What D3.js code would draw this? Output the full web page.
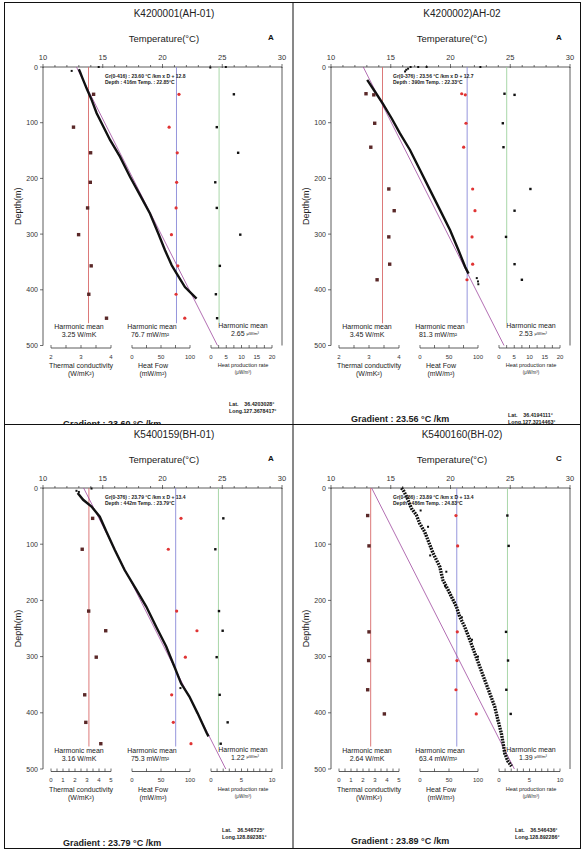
<!DOCTYPE html>
<html><head><meta charset="utf-8">
<script src="https://cdn.jsdelivr.net/npm/d3@7"></script>
<style>body{margin:0;background:#fff}svg{display:block;font-family:"Liberation Sans",Arial,sans-serif}</style>
</head><body><svg id="c" width="586" height="852"></svg>
<script>
// ---------- labels ----------
const titles = ["K4200001(AH-01)", "K4200002)AH-02", "K5400159(BH-01)", "K5400160(BH-02)"];
const corner = ["A", "A", "A", "C"];
const grLine1 = ["Gr(0-416) : 23.60 °C /km x D + 12.8", "Gr(0-376) : 23.56 °C /km x D + 12.7",
                 "Gr(0-376) : 23.79 °C /km x D + 13.4", "Gr(0-486) : 23.89 °C /km x D + 13.4"];
const grLine2 = ["Depth : 416m  Temp. : 22.85°C", "Depth : 390m  Temp. : 22.33°C",
                 "Depth : 442m  Temp. : 23.79°C", "Depth : 486m  Temp. : 24.83°C"];
const gradLabel = ["Gradient : 23.60 °C /km", "Gradient : 23.56 °C /km", "Gradient : 23.79 °C /km", "Gradient : 23.89 °C /km"];
const latLabel = ["Lat.    36.4203028°", "Lat.    36.4194111°", "Lat.    36.546725°", "Lat.    36.546436°"];
const longLabel = ["Long.127.3678417°", "Long.127.3214463°", "Long.128.892381°", "Long.128.892286°"];
const gradSlope = [23.60, 23.56, 23.79, 23.89];
const gradIntercept = [12.8, 12.7, 13.4, 13.4];
const tcMean = [3.25, 3.45, 3.16, 2.64];
const hfMean = [76.7, 81.3, 75.3, 63.4];
const hpMean = [2.65, 2.53, 1.22, 1.39];
const tcDomain = [[2, 4], [2, 4], [0, 5], [0, 5]];
const tcTicks = [[2, 3, 4], [2, 3, 4], [0, 1, 2, 3, 4, 5], [0, 1, 2, 3, 4, 5]];
const tcMinorStep = [0.5, 0.5, 0.5, 0.5];
const hfDomain = [0, 100];
const hfTicks = [0, 50, 100];
const hpDomain = [[0, 20], [0, 20], [0, 10], [0, 10]];
const hpTicks = [[0, 5, 10, 15, 20], [0, 5, 10, 15, 20], [0, 5, 10], [0, 5, 10]];
const hpMinorStep = [2.5, 2.5, 1, 1];
const tempTicks = [10, 15, 20, 25, 30];
const depthTicks = [0, 100, 200, 300, 400, 500];

// ---------- temperature logs (depth m, temperature °C) ----------
const log1Depth = [4, 9, 20, 41, 59, 83, 101, 131, 161, 197, 230, 263, 299, 329, 356, 371, 395, 416];
const log1Temp  = [13.0, 13.1, 13.3, 13.7, 14.07, 14.49, 14.91, 15.61, 16.44, 17.28, 18.12, 18.95, 19.65, 20.21, 20.77, 21.19, 21.88, 22.85];
const dots1Depth = [7, 0, 1, 0];
const dots1Temp  = [12.4, 14.66, 24.0, 25.3];

const log2Depth = [23, 44, 65, 92, 119, 149, 185, 221, 257, 293, 329, 359, 371];
const log2Temp  = [13.03, 13.67, 14.31, 15.07, 15.77, 16.61, 17.45, 18.29, 19.13, 19.97, 20.67, 21.23, 21.51];
const dots2Depth = [5, 0, 8, 3, 0, 0, 0, 379, 385, 390];
const dots2Temp  = [16.3, 16.66, 16.2, 16.45, 17.3, 18.0, 22.5, 22.2, 22.3, 22.33];

const log3Depth = [9, 21, 33, 51, 78, 110, 146, 181, 211, 247, 282, 318, 348, 371, 401, 436, 442];
const log3Temp  = [12.9, 13.36, 14.06, 14.75, 15.31, 16.0, 16.83, 17.81, 18.64, 19.47, 20.31, 21.0, 21.56, 22.25, 22.94, 23.7, 23.85];
const dots3Depth = [1, 5, 7, 356];
const dots3Temp  = [14.06, 12.8, 13.0, 21.5];

const log4Depth = [0, 6, 21, 36, 48, 63, 78, 93, 116, 140, 164, 181, 199, 211, 229, 247, 270, 294, 318, 342, 365, 389, 413, 436, 460, 472, 486, 495];
const log4Temp  = [15.9, 16.1, 16.44, 16.72, 17.14, 17.42, 17.84, 18.12, 18.54, 19.1, 19.37, 19.79, 20.21, 20.49, 20.77, 21.19, 21.61, 22.03, 22.45, 22.87, 23.28, 23.7, 23.97, 24.25, 24.45, 24.54, 24.8, 25.1];
const dots4Depth = [69, 149, 270, 40, 120, 300, 175, 230];
const dots4Temp  = [18.12, 19.65, 21.8, 17.5, 18.3, 22.3, 19.55, 20.95];

// ---------- core samples (depth m; thermal conductivity, heat flow, heat production) ----------
const s1Depth = [49, 108, 154, 207, 253, 301, 357, 408, 451];
const s1TC = [3.42, 2.75, 3.32, 3.31, 3.22, 2.92, 3.34, 3.26, 3.85];
const s1HF = [81, 64, 78, 77, 76, 68, 79, 76, 91];
const s1HP = [7.5, 1.9, 8.9, 1.4, 1.9, 9.6, 2.9, 1.6, 2.0];

const s2Depth = [48, 50, 101, 144, 219, 258, 305, 354, 382];
const s2TC = [2.9, 3.16, 3.19, 3.06, 3.66, 3.84, 3.66, 3.69, 3.27];
const s2HF = [71.9, 78.1, 79.3, 75.3, 90.8, 94.8, 89.7, 90.8, 81];
const s2HP = [1.8, 5.1, 1.25, 1.47, 10.3, 5.1, 2.3, 5.1, 7.5];

const s3Depth = [54, 109, 219, 254, 301, 368, 417, 455];
const s3TC = [3.47, 2.6, 3.14, 4.56, 3.77, 2.81, 2.9, 4.15];
const s3HF = [84.5, 62.6, 77, 112, 92, 68.4, 71.2, 101.7];
const s3HP = [2.02, 0.71, 1.31, 1.91, 0.93, 1.42, 2.73, 1.59];

const s4Depth = [49, 103, 256, 307, 359, 402];
const s4TC = [2.39, 2.5, 2.5, 2.47, 2.39, 3.78];
const s4HF = [62, 64.9, 64.3, 63.7, 62, 97];
const s4HP = [1.37, 1.58, 1.15, 1.48, 1.2, 1.92];

const logs = [[log1Depth, log1Temp], [log2Depth, log2Temp], [log3Depth, log3Temp], [log4Depth, log4Temp]];
const dots = [[dots1Depth, dots1Temp], [dots2Depth, dots2Temp], [dots3Depth, dots3Temp], [dots4Depth, dots4Temp]];
const samples = [[s1Depth, s1TC, s1HF, s1HP], [s2Depth, s2TC, s2HF, s2HP], [s3Depth, s3TC, s3HF, s3HP], [s4Depth, s4TC, s4HF, s4HP]];

// ---------- layout ----------
const offX = [0, 288, 0, 288], offY = [0, 0, 421, 421];
const X0 = 43, X1 = 282, Y0 = 67;
const Y1 = [345.5, 345.5, 348, 348];
const latX = [229, 220, 222, 227], latY = [406, 417, 411, 411];
const gradY = [426.5, 421.5, 424.5, 422.5];
const meanLineEnd = 460;

const svg = d3.select("#c");
svg.append("rect").attr("width", 586).attr("height", 852).attr("fill", "#fff");

const defs = svg.append("defs");
const clipRects = [[5, 3, 288, 421.5], [293, 3, 287, 421.5], [5, 425, 288, 423], [293, 425, 287, 423]];
clipRects.forEach((r, i) => {
  defs.append("clipPath").attr("id", "clip" + i).append("rect")
    .attr("x", r[0]).attr("y", r[1]).attr("width", r[2]).attr("height", r[3]);
});

function txt(g, x, y, s, size, anchor, weight, fill) {
  return g.append("text").attr("x", x).attr("y", y).attr("font-size", size)
    .attr("text-anchor", anchor || "middle").attr("font-weight", weight || "normal")
    .attr("fill", fill || "#222").text(s);
}

for (let p = 0; p < 4; p++) {
  const outer = svg.append("g").attr("clip-path", `url(#clip${p})`);
  const g = outer.append("g").attr("transform", `translate(${offX[p]},${offY[p]})`);
  const y1 = Y1[p];
  const xT = d3.scaleLinear().domain([10, 30]).range([X0, X1]);
  const yD = d3.scaleLinear().domain([0, 500]).range([Y0, y1]);
  const xTC = d3.scaleLinear().domain(tcDomain[p]).range([X0 + 8, X0 + 68]);
  const xHF = d3.scaleLinear().domain(hfDomain).range([X0 + 89, X0 + 147]);
  const xHP = d3.scaleLinear().domain(hpDomain[p]).range([X0 + 168, X0 + 229]);

  // titles
  txt(g, 174, 16.5, titles[p], 10, "middle", "normal", "#222");
  txt(g, 164, 41.5, "Temperature(°C)", 9.5, "middle", "normal", "#222");
  txt(g, 271, 39.5, corner[p], 8, "middle", "bold", "#111");

  // top axis
  g.append("line").attr("x1", xT(10)).attr("x2", xT(30)).attr("y1", Y0).attr("y2", Y0).attr("stroke", "#333").attr("stroke-width", 0.8);
  d3.range(10, 30.01, 1).forEach(v => {
    const major = tempTicks.includes(v);
    g.append("line").attr("x1", xT(v)).attr("x2", xT(v)).attr("y1", Y0 - (major ? 3 : 2)).attr("y2", Y0 + (major ? 1 : 0))
      .attr("stroke", "#333").attr("stroke-width", 0.7);
  });
  tempTicks.forEach(v => txt(g, xT(v), Y0 - 7, v, 7.5, "middle", "normal", "#333"));

  // left axis
  g.append("line").attr("x1", X0).attr("x2", X0).attr("y1", Y0).attr("y2", y1).attr("stroke", "#333").attr("stroke-width", 0.8);
  depthTicks.forEach(v => {
    g.append("line").attr("x1", X0 - 3).attr("x2", X0).attr("y1", yD(v)).attr("y2", yD(v)).attr("stroke", "#333").attr("stroke-width", 0.7);
    txt(g, X0 - 5, yD(v) + 2.5, v, 7, "end", "normal", "#333");
  });
  txt(g, 0, 0, "Depth(m)", 9, "middle", "normal", "#222")
    .attr("transform", `translate(${X0 - 22},${(Y0 + y1) / 2}) rotate(-90)`);

  // right frame
  g.append("line").attr("x1", xT(30)).attr("x2", xT(30)).attr("y1", Y0).attr("y2", y1).attr("stroke", "#333").attr("stroke-width", 0.8);

  // harmonic mean lines
  const lineEnd = yD(meanLineEnd);
  g.append("line").attr("x1", xTC(tcMean[p])).attr("x2", xTC(tcMean[p])).attr("y1", Y0).attr("y2", lineEnd).attr("stroke", "#d86a6a").attr("stroke-width", 0.9);
  g.append("line").attr("x1", xHF(hfMean[p])).attr("x2", xHF(hfMean[p])).attr("y1", Y0).attr("y2", lineEnd).attr("stroke", "#8a8ad8").attr("stroke-width", 0.9);
  g.append("line").attr("x1", xHP(hpMean[p])).attr("x2", xHP(hpMean[p])).attr("y1", Y0).attr("y2", lineEnd).attr("stroke", "#9fd29f").attr("stroke-width", 0.9);

  // gradient line
  g.append("line")
    .attr("x1", xT(gradIntercept[p])).attr("y1", yD(0))
    .attr("x2", xT(gradIntercept[p] + gradSlope[p] * 0.5)).attr("y2", yD(500))
    .attr("stroke", "#a04aa0").attr("stroke-width", 0.8);

  // temperature log
  const L = logs[p][0].map((d, i) => ({ d: d, t: logs[p][1][i] }));
  const path = g.append("path").datum(L)
    .attr("d", d3.line().x(d => xT(d.t)).y(d => yD(d.d)))
    .attr("fill", "none").attr("stroke", "#111").attr("stroke-width", p === 3 ? 3.4 : 2.4);
  if (p === 3) path.attr("stroke-dasharray", "1.8,1");
  const D = dots[p][0].map((d, i) => ({ d: d, t: dots[p][1][i] }));
  g.selectAll(null).data(D).enter().append("rect")
    .attr("x", d => xT(d.t) - 1).attr("y", d => yD(d.d) - 1).attr("width", 2).attr("height", 2).attr("fill", "#111");

  // samples
  const S = samples[p][0].map((d, i) => ({ d: d, tc: samples[p][1][i], hf: samples[p][2][i], hp: samples[p][3][i] }));
  g.selectAll(null).data(S).enter().append("rect")
    .attr("x", d => xTC(d.tc) - 1.7).attr("y", d => yD(d.d) - 1.7).attr("width", 3.4).attr("height", 3.4).attr("fill", "#5a2828");
  g.selectAll(null).data(S).enter().append("circle")
    .attr("cx", d => xHF(d.hf)).attr("cy", d => yD(d.d)).attr("r", 1.6).attr("fill", "#e03434");
  g.selectAll(null).data(S).enter().append("rect")
    .attr("x", d => xHP(d.hp) - 1.2).attr("y", d => yD(d.d) - 1.2).attr("width", 2.4).attr("height", 2.4).attr("fill", "#111");

  // annotation
  txt(g, X0 + 62, Y0 + 11, grLine1[p], 5, "start", "bold", "#222");
  txt(g, X0 + 62, Y0 + 16.5, grLine2[p], 5, "start", "bold", "#222");

  // bottom axes
  const by = y1 + 2.5;
  function bottomAxis(scale, domain, step, ticks) {
    g.append("line").attr("x1", scale(domain[0])).attr("x2", scale(domain[1])).attr("y1", by).attr("y2", by).attr("stroke", "#333").attr("stroke-width", 0.8);
    d3.range(domain[0], domain[1] + step / 2, step).forEach(v => {
      g.append("line").attr("x1", scale(v)).attr("x2", scale(v)).attr("y1", by).attr("y2", by - 3).attr("stroke", "#333").attr("stroke-width", 0.7);
    });
    ticks.forEach(v => txt(g, scale(v), by + 10.5, v, 6, "middle", "normal", "#333"));
  }
  bottomAxis(xTC, tcDomain[p], tcMinorStep[p], tcTicks[p]);
  bottomAxis(xHF, hfDomain, 25, hfTicks);
  bottomAxis(xHP, hpDomain[p], hpMinorStep[p], hpTicks[p]);

  const cTC = X0 + 38, cHF = X0 + 110, cHP = X0 + 200;
  txt(g, cTC, by + 20, "Thermal conductivity", 7, "middle", "normal", "#222");
  txt(g, cTC, by + 28, "(W/mK²)", 7, "middle", "normal", "#222");
  txt(g, cHF, by + 20, "Heat Fow", 7, "middle", "normal", "#222");
  txt(g, cHF, by + 28, "(mW/m²)", 7, "middle", "normal", "#222");
  txt(g, cHP, by + 19, "Heat production rate", 5.6, "middle", "normal", "#222");
  txt(g, cHP, by + 26, "(μW/m³)", 4.5, "middle", "normal", "#222");

  // harmonic mean texts
  txt(g, cTC - 2, y1 - 16.5, "Harmonic mean", 7, "middle", "normal", "#222");
  txt(g, cTC - 2, y1 - 8.5, tcMean[p].toFixed(2) + " W/mK", 7, "middle", "normal", "#222");
  txt(g, cHF - 1, y1 - 16.5, "Harmonic mean", 7, "middle", "normal", "#222");
  txt(g, cHF - 3, y1 - 8.5, hfMean[p].toFixed(1) + " mW/m²", 7, "middle", "normal", "#222");
  txt(g, cHP, y1 - 17.5, "Harmonic mean", 7, "middle", "normal", "#222");
  const hpT = txt(g, cHP + 2, y1 - 9.5, "", 7, "middle", "normal", "#222");
  hpT.append("tspan").text(hpMean[p].toFixed(2) + " ");
  hpT.append("tspan").attr("font-size", 4.2).attr("dy", -1.5).text("μW/m³");

  // location and gradient
  txt(g, latX[p], latY[p], latLabel[p], 5.3, "start", "bold", "#222").style("white-space", "pre");
  txt(g, latX[p], latY[p] + 6.5, longLabel[p], 5.3, "start", "bold", "#222");
  txt(g, 63, gradY[p], gradLabel[p], 9, "start", "bold", "#222");
}

// frame and dividers
svg.append("rect").attr("x", 4.5).attr("y", 2.5).attr("width", 576).attr("height", 846).attr("fill", "none").attr("stroke", "#111").attr("stroke-width", 1);
svg.append("line").attr("x1", 293).attr("x2", 293).attr("y1", 2.5).attr("y2", 848.5).attr("stroke", "#111").attr("stroke-width", 1);
svg.append("line").attr("x1", 4.5).attr("x2", 580.5).attr("y1", 424.5).attr("y2", 424.5).attr("stroke", "#111").attr("stroke-width", 1);
</script></body></html>
